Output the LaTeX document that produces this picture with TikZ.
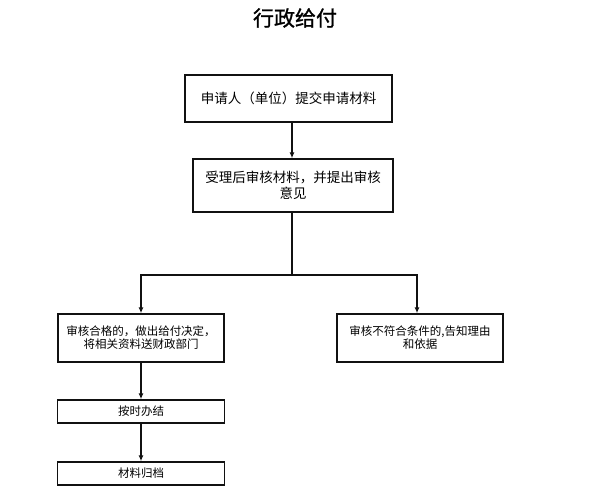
\documentclass[tikz,border=0pt]{standalone}
\usepackage{fontspec}
\usepackage{xcolor}
\usepackage{tikz}
\usetikzlibrary{arrows.meta,positioning,calc}
\setmainfont{Noto Sans CJK SC}
\newfontfamily\cjktitle[FakeBold=1.2]{Noto Sans CJK SC}
\definecolor{inkline}{HTML}{111111}

\begin{document}
\begin{tikzpicture}[x=1pt,y=-1pt,>={Latex[length=6pt,width=5pt]}]
  \tikzset{stepbox/.style={draw=inkline,line width=1.4pt,inner sep=0pt,align=center,font=\fontsize{11.5}{13}\selectfont},
           flow/.style={->,line width=1.4pt,inkline}}
  \useasboundingbox (0,0) rectangle (589,494);

  \node[font=\cjktitle\fontsize{21}{24}\selectfont] (title) at (295,18) {行政给付};

  \node[stepbox,minimum width=207pt,minimum height=47pt,font=\fontsize{13.5}{15}\selectfont] (apply) at (288.5,98.5)
    {申请人（单位）提交申请材料};
  \node[stepbox,minimum width=200pt,minimum height=53pt,font=\fontsize{13.5}{15.5}\selectfont] (review) at (293,185.5)
    {受理后审核材料，并提出审核\\意见};

  \coordinate (trunk) at (292,275);

  \node[stepbox,minimum width=166pt,minimum height=48pt] (pass) at (141,338)
    {审核合格的，做出给付决定，\\将相关资料送财政部门};
  \node[stepbox,minimum width=166pt,minimum height=48pt] (reject) at (420,338)
    {审核不符合条件的,告知理由\\和依据};

  \node[stepbox,minimum width=167pt,minimum height=23pt] (finish) at (141,411.5) {按时办结};
  \node[stepbox,minimum width=167pt,minimum height=23pt] (archive) at (141,473.5) {材料归档};

  \draw[flow] (apply.south -| trunk) -- (review.north -| trunk);
  \draw[line width=1.4pt,inkline] (review.south -| trunk) -- (trunk);
  \draw[flow] (trunk) -| (pass.north);
  \draw[flow] (trunk) -| ($(reject.north)+(-3,0)$);
  \draw[flow] (pass) -- (finish);
  \draw[flow] (finish) -- (archive);
\end{tikzpicture}
\end{document}
